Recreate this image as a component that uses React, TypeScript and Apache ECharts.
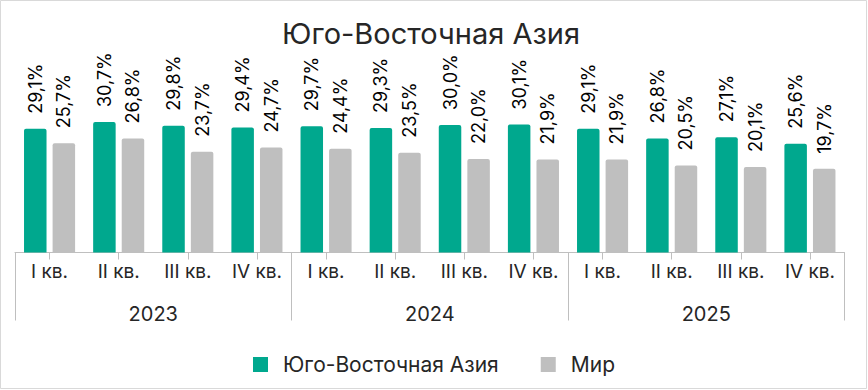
import React, { useEffect, useRef } from "react";
import * as echarts from "echarts";

const quarters = ["I кв.", "II кв.", "III кв.", "IV кв.", "I кв.", "II кв.", "III кв.", "IV кв.", "I кв.", "II кв.", "III кв.", "IV кв."];
const years = ["2023", "2024", "2025"];
const seaValues = [29.1, 30.7, 29.8, 29.4, 29.7, 29.3, 30.0, 30.1, 29.1, 26.8, 27.1, 25.6];
const worldValues = [25.7, 26.8, 23.7, 24.7, 24.4, 23.5, 22.0, 21.9, 21.9, 20.5, 20.1, 19.7];
const seriesNames = ["Юго-Восточная Азия", "Мир"];
const titleText = "Юго-Восточная Азия";

const FONT = "Inter";
const GREEN = "#00A88E";
const GRAY = "#BFBFBF";
const AXIS = "#BFBFBF";

const fmt = (p: any) => p.value.toFixed(1).replace(".", ",") + "%";

export default function App() {
  const ref = useRef<HTMLDivElement>(null);
  useEffect(() => {
    if (!ref.current) return;
    const chart = echarts.init(ref.current, undefined, { renderer: "svg" });
    const label = {
      show: true,
      position: "top",
      rotate: 90,
      align: "left",
      verticalAlign: "middle",
      distance: 15,
      color: "#000",
      fontFamily: FONT,
      fontSize: 18,
      formatter: fmt,
    };
    chart.setOption({
      animation: false,
      backgroundColor: "#fff",
      textStyle: { fontFamily: FONT },
      title: {
        text: titleText,
        left: 426,
        textAlign: "center",
        top: 14,
        textStyle: { fontFamily: FONT, fontSize: 29, fontWeight: "normal", color: "#262626" },
      },
      graphic: [
        {
          type: "rect",
          shape: { x: 0.5, y: 0.5, width: 866, height: 388 },
          style: { fill: "none", stroke: "#D9D9D9", lineWidth: 1 },
          silent: true,
        },
      ],
      legend: {
        bottom: 10,
        left: "center",
        icon: "rect",
        itemWidth: 15,
        itemHeight: 15,
        itemGap: 42,
        textStyle: { fontFamily: FONT, fontSize: 21, color: "#262626", padding: [0, 0, 0, 10] },
        data: seriesNames,
      },
      grid: { left: 15, right: 23.5, top: 82.5, bottom: 137.5 },
      xAxis: [
        {
          type: "category",
          data: quarters,
          axisLine: { show: true, lineStyle: { color: AXIS } },
          axisTick: { show: true, alignWithLabel: true, length: 7, lineStyle: { color: AXIS } },
          axisLabel: { fontFamily: FONT, fontSize: 19, color: "#262626", margin: 9, interval: 0 },
        },
        {
          type: "category",
          data: years,
          position: "bottom",
          axisLine: { show: false },
          axisTick: { show: true, length: 68, lineStyle: { color: AXIS } },
          axisLabel: { fontFamily: FONT, fontSize: 20, color: "#262626", margin: 51, interval: 0 },
        },
      ],
      yAxis: { type: "value", min: 0, max: 40, show: false, splitLine: { show: false } },
      series: [
        {
          name: seriesNames[0],
          type: "bar",
          data: seaValues,
          xAxisIndex: 0,
          barWidth: 22.5,
          barGap: "27%",
          itemStyle: { color: GREEN, borderRadius: [2, 2, 0, 0] },
          label,
        },
        {
          name: seriesNames[1],
          type: "bar",
          data: worldValues,
          xAxisIndex: 0,
          barWidth: 22.5,
          barGap: "27%",
          itemStyle: { color: GRAY, borderRadius: [2, 2, 0, 0] },
          label,
        },
      ],
    });
    return () => chart.dispose();
  }, []);
  return <div ref={ref} style={{ position: "absolute", left: 0, top: 0, width: 868, height: 390 }} />;
}
